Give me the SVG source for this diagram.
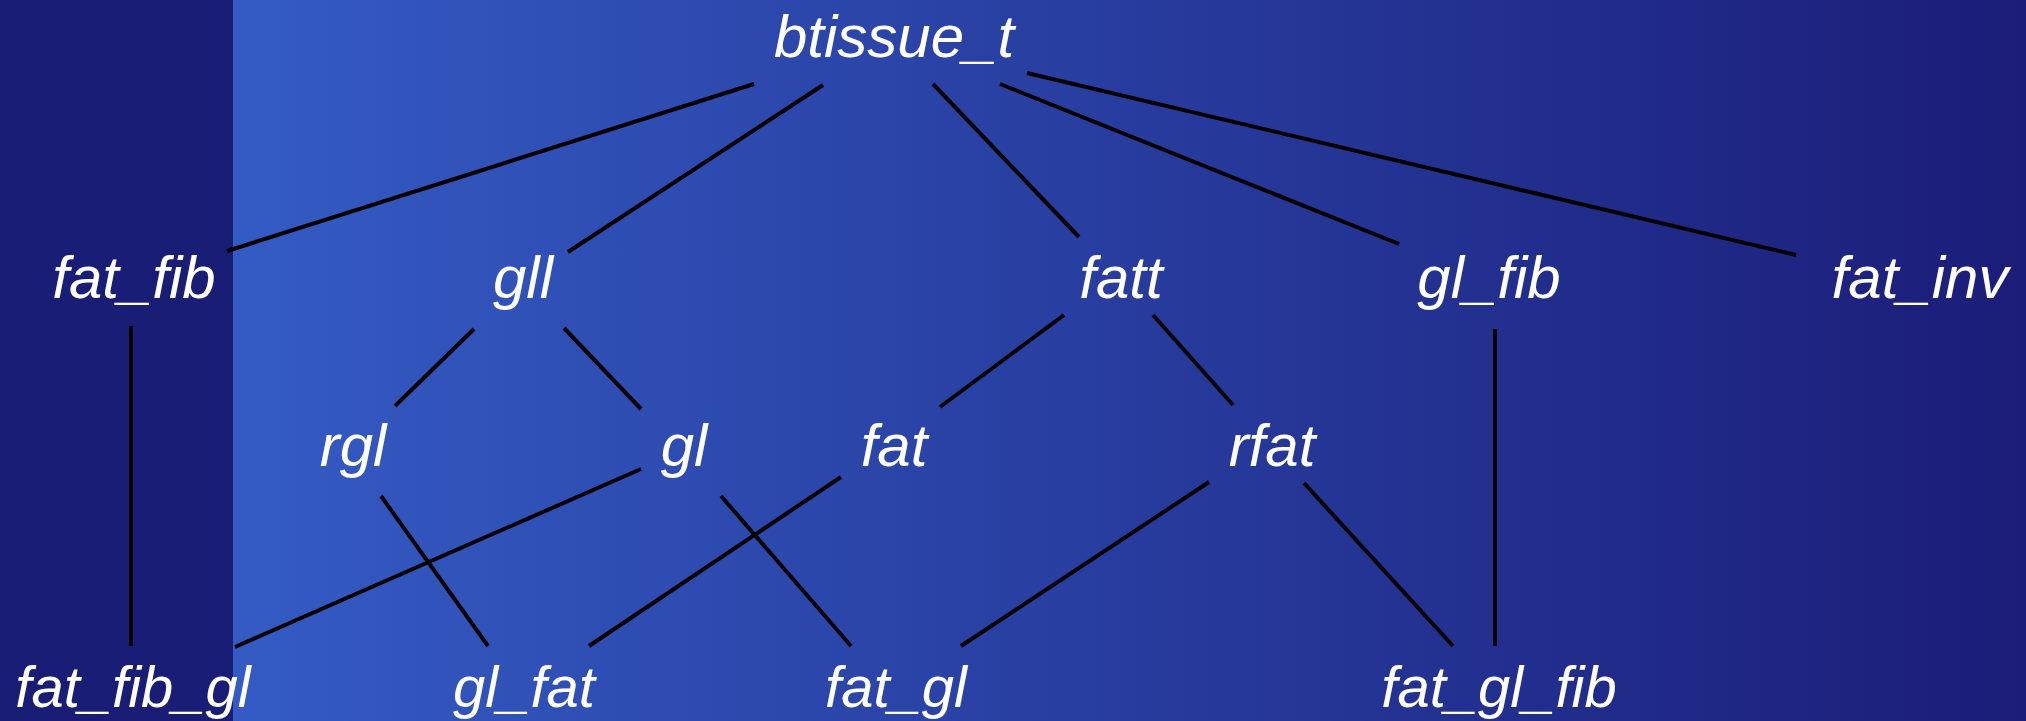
<svg xmlns="http://www.w3.org/2000/svg" width="2026" height="721" viewBox="0 0 2026 721">
  <defs>
    <linearGradient id="bg" x1="233" y1="0" x2="2026" y2="0" gradientUnits="userSpaceOnUse">
      <stop offset="0" stop-color="#345bc4"/>
      <stop offset="1" stop-color="#1b1d78"/>
    </linearGradient>
  </defs>
  <style>
    .lbl { font-family: "Liberation Sans", Arial, sans-serif; font-style: italic; font-size: 60px; fill: #ffffff; text-anchor: middle; }
    .sm { font-size: 58px; }
    .edge { stroke: #000000; stroke-width: 4; fill: none; }
  </style>
  <rect x="0" y="0" width="2026" height="721" fill="#1a1d76"/>
  <rect x="233" y="0" width="1793" height="721" fill="url(#bg)"/>
  <g id="connectors">
    <line class="edge" x1="754" y1="84" x2="227" y2="251"/>
    <line class="edge" x1="823" y1="85" x2="568" y2="252"/>
    <line class="edge" x1="933" y1="84" x2="1079" y2="237"/>
    <line class="edge" x1="1000" y1="84" x2="1399" y2="244"/>
    <line class="edge" x1="1027" y1="73" x2="1796" y2="255"/>
    <line class="edge" x1="131" y1="326" x2="131" y2="646"/>
    <line class="edge" x1="474" y1="329" x2="395" y2="406"/>
    <line class="edge" x1="564" y1="328" x2="641" y2="409"/>
    <line class="edge" x1="1064" y1="315" x2="940" y2="407"/>
    <line class="edge" x1="1153" y1="315" x2="1233" y2="405"/>
    <line class="edge" x1="1495" y1="329" x2="1495" y2="646"/>
    <line class="edge" x1="381" y1="496" x2="488" y2="646"/>
    <line class="edge" x1="641" y1="469" x2="235" y2="647"/>
    <line class="edge" x1="721" y1="496" x2="851" y2="646"/>
    <line class="edge" x1="841" y1="477" x2="589" y2="646"/>
    <line class="edge" x1="1209" y1="482" x2="961" y2="646"/>
    <line class="edge" x1="1304" y1="483" x2="1453" y2="646"/>
  </g>
  <g id="btissue_t"><text class="lbl" x="894" y="57">btissue_t</text></g>
  <g id="fat_fib"><text class="lbl" x="134" y="298">fat_fib</text></g>
  <g id="gll"><text class="lbl" x="523" y="298">gll</text></g>
  <g id="fatt"><text class="lbl" x="1121" y="298">fatt</text></g>
  <g id="gl_fib"><text class="lbl" x="1489" y="298">gl_fib</text></g>
  <g id="fat_inv"><text class="lbl" x="1920" y="298">fat_inv</text></g>
  <g id="rgl"><text class="lbl" x="353" y="466">rgl</text></g>
  <g id="gl"><text class="lbl" x="684" y="466">gl</text></g>
  <g id="fat"><text class="lbl" x="894" y="466">fat</text></g>
  <g id="rfat"><text class="lbl" x="1272" y="466">rfat</text></g>
  <g id="fat_fib_gl"><text class="lbl sm" x="133" y="707">fat_fib_gl</text></g>
  <g id="gl_fat"><text class="lbl sm" x="524" y="707">gl_fat</text></g>
  <g id="fat_gl"><text class="lbl sm" x="896" y="707">fat_gl</text></g>
  <g id="fat_gl_fib"><text class="lbl sm" x="1499" y="707">fat_gl_fib</text></g>
</svg>
